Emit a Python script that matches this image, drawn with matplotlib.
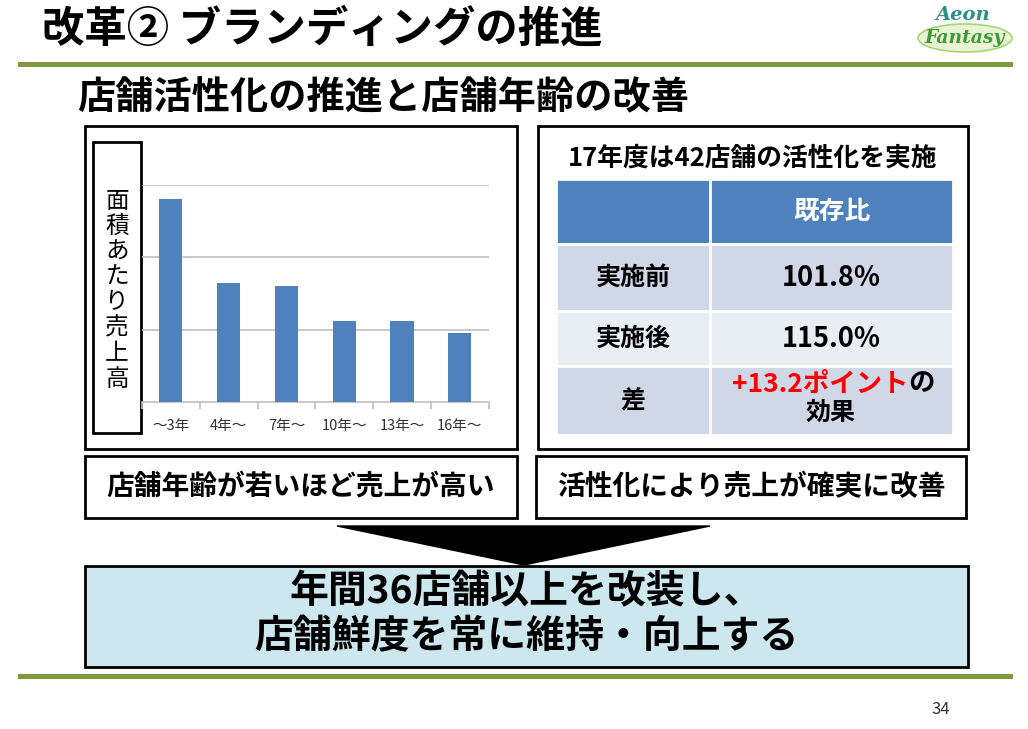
import matplotlib
matplotlib.use('Agg')
import matplotlib.pyplot as plt
from matplotlib.patches import Rectangle, Polygon, Ellipse
import numpy as np

plt.rcParams['font.family'] = ['Noto Sans CJK JP', 'DejaVu Sans']

# data
age_labels = ['～3年', '4年～', '7年～', '10年～', '13年～', '16年～']
sales_per_area = [2.81, 1.64, 1.60, 1.12, 1.12, 0.96]
ylabel_chars = list('面積あたり売上高')

table_header = ['', '既存比']
table_rows = ['実施前', '実施後', '差']
table_values = ['101.8%', '115.0%', None]

title = '改革② ブランディングの推進'
subtitle = '店舗活性化の推進と店舗年齢の改善'
panel_title = '17年度は42店舗の活性化を実施'
left_note = '店舗年齢が若いほど売上が高い'
right_note = '活性化により売上が確実に改善'
conclusion = ['年間36店舗以上を改装し、', '店舗鮮度を常に維持・向上する']

W, H = 1028, 729
fig = plt.figure(figsize=(W / 100, H / 100), dpi=100)
fig.patch.set_facecolor('white')

# background layer in pixel coords
bg = fig.add_axes([0, 0, 1, 1], zorder=0)
bg.set_xlim(0, W)
bg.set_ylim(H, 0)
bg.axis('off')

green = '#7F9A3E'
bg.text(42, 30, title, fontsize=30.5, fontweight='bold', va='center', ha='left')
bg.add_patch(Rectangle((18, 62), 995, 5, color=green, lw=0))
bg.text(77, 98, subtitle, fontsize=27.5, fontweight='bold', va='center', ha='left')

# logo
bg.add_patch(Ellipse((965, 38), 94, 28, facecolor='#E8F4D2', edgecolor='#A9D37A', lw=1.2))
bg.text(963, 15, 'Aeon', fontsize=14, family='DejaVu Serif', style='italic',
        fontweight='bold', color='#2E8E8A', ha='center', va='center')
bg.text(965, 38, 'Fantasy', fontsize=13.5, family='DejaVu Serif', style='italic',
        fontweight='bold', color='#3E9A3A', ha='center', va='center')

# panels
box_kw = dict(fill=False, edgecolor='black', lw=2)
bg.add_patch(Rectangle((85, 126), 432, 323, **box_kw))
bg.add_patch(Rectangle((538, 126), 430, 323, **box_kw))
bg.add_patch(Rectangle((85, 456), 432, 62, **box_kw))
bg.add_patch(Rectangle((536, 456), 430, 62, **box_kw))

# y label box
bg.add_patch(Rectangle((93, 142), 48, 291, **box_kw))
for i, ch in enumerate(ylabel_chars):
    bg.text(117, 201 + i * 25.5, ch, fontsize=17, ha='center', va='center')

bg.text(301, 487, left_note, fontsize=20, fontweight='bold', ha='center', va='center')
bg.text(751, 487, right_note, fontsize=20, fontweight='bold', ha='center', va='center')

# table
bg.text(753, 158, panel_title, fontsize=18.5, fontweight='bold', ha='center', va='center')
col_x = [556, 710, 953]
row_y = [179, 244, 311, 366, 435]
fills = ['#4F81BD', '#D0D8E8', '#E9EDF4', '#D0D8E8']
for r in range(4):
    for c in range(2):
        bg.add_patch(Rectangle((col_x[c], row_y[r]), col_x[c + 1] - col_x[c],
                               row_y[r + 1] - row_y[r], facecolor=fills[r],
                               edgecolor='white', lw=2))
bg.text((col_x[1] + col_x[2]) / 2, (row_y[0] + row_y[1]) / 2, table_header[1],
        fontsize=18.5, fontweight='bold', color='white', ha='center', va='center')
for r, lab in enumerate(table_rows):
    yc = (row_y[r + 1] + row_y[r + 2]) / 2
    bg.text((col_x[0] + col_x[1]) / 2, yc, lab, fontsize=18, fontweight='bold',
            ha='center', va='center')
    if table_values[r] is not None:
        bg.text((col_x[1] + col_x[2]) / 2, yc, table_values[r], fontsize=19.5,
                fontweight='bold', ha='center', va='center')
bg.text(908, 384, '+13.2ポイント', fontsize=19, fontweight='bold', color='#FF0000',
        ha='right', va='center')
bg.text(908, 384, 'の', fontsize=19, fontweight='bold', ha='left', va='center')
bg.text(831, 413, '効果', fontsize=18, fontweight='bold', ha='center', va='center')

# arrow
bg.add_patch(Polygon([(337, 526), (710, 526), (524, 565)], closed=True,
                     facecolor='black', edgecolor='black'))

# conclusion box
bg.add_patch(Rectangle((85, 566), 883, 101, facecolor='#CCE7EE', edgecolor='black', lw=2))
bg.text(526, 592, conclusion[0], fontsize=28, fontweight='bold', ha='center', va='center')
bg.text(526, 637, conclusion[1], fontsize=28, fontweight='bold', ha='center', va='center')

bg.add_patch(Rectangle((18, 674), 995, 5, color=green, lw=0))
bg.text(941, 709, '34', fontsize=12, color='#333333', ha='center', va='center')

# bar chart
ax = fig.add_axes([142 / W, 1 - 402 / H, 346.7 / W, 217 / H], zorder=1)
ax.set_facecolor('none')
x = np.arange(len(age_labels))
ax.bar(x, sales_per_area, width=0.4, color='#4F81BD', zorder=3)
ax.set_xlim(-0.5, len(age_labels) - 0.5)
ax.set_ylim(0, 3)
ax.set_yticks([1, 2, 3])
ax.yaxis.grid(True, color='#BFBFBF', lw=1.2)
ax.tick_params(axis='y', left=False, labelleft=False)
for s in ['top', 'right', 'left']:
    ax.spines[s].set_visible(False)
ax.spines['bottom'].set_color('#BFBFBF')
ax.spines['bottom'].set_linewidth(1.2)
ax.set_xticks(x)
ax.set_xticklabels(age_labels, fontsize=10.5, color='#333333')
ax.set_xticks(np.arange(-0.5, len(age_labels)), minor=True)
ax.tick_params(axis='x', which='major', length=0, pad=12)
ax.tick_params(axis='x', which='minor', length=5, color='#BFBFBF', width=1.2)

fig.savefig('out.png', dpi=100)
